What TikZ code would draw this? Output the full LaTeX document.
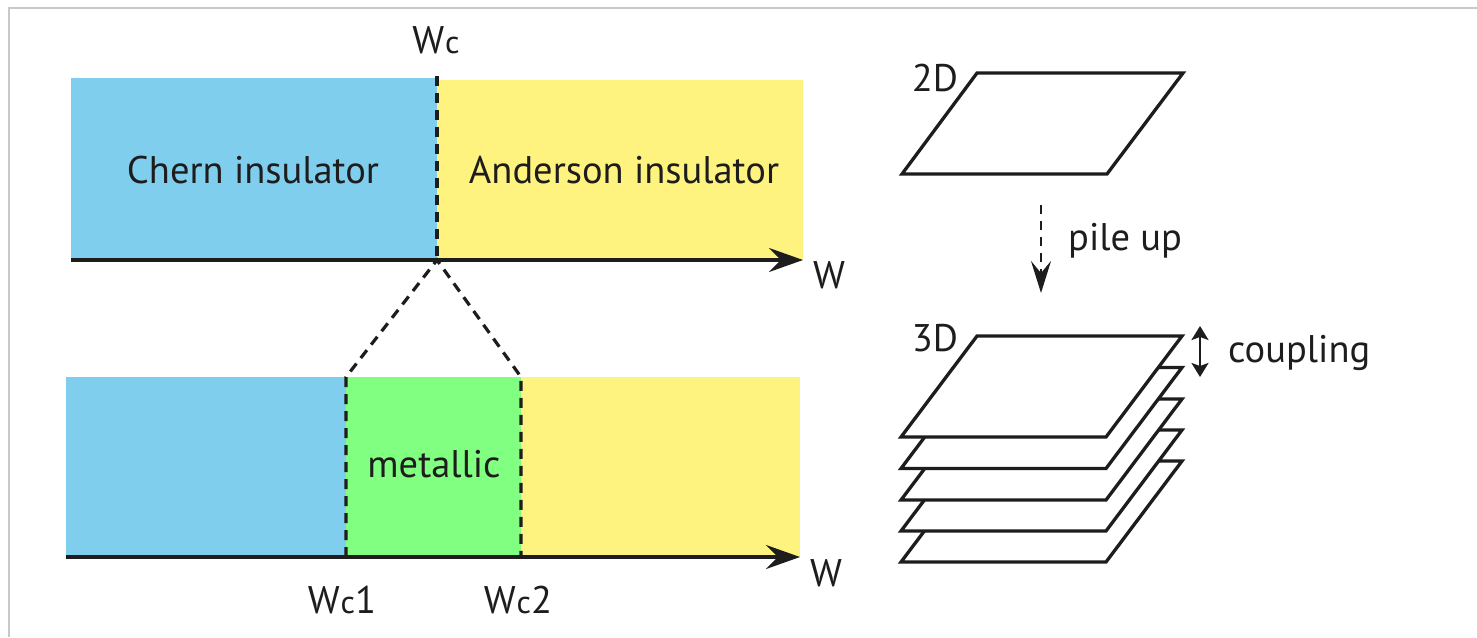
\documentclass[tikz,border=0pt]{standalone}
\usepackage{fontspec}
\setmainfont{PT Sans}
\usetikzlibrary{arrows.meta}
\definecolor{cblue}{RGB}{127,206,238}
\definecolor{cyellow}{RGB}{255,243,128}
\definecolor{cgreen}{RGB}{128,255,128}
\definecolor{ink}{RGB}{30,28,28}
\definecolor{framegray}{RGB}{200,200,200}
\begin{document}
\begin{tikzpicture}[x=1pt,y=-1pt,
  lbl/.style={inner sep=0pt, anchor=base, text=ink, font=\fontsize{38.5}{42}\selectfont},
  axisarrow/.style={draw=ink, line width=3.4pt, -{Stealth[length=34pt,width=24pt,inset=12pt]}},
  dsh/.style={draw=ink, line width=3.2pt, dash pattern=on 10pt off 7pt},
  plate/.style={draw=ink, line width=3.3pt, fill=white, line join=miter},
]
\useasboundingbox (0,0) rectangle (1477,637);
% frame
\draw[framegray, line width=2pt] (9,637) -- (9,8) -- (1477,8);

% ---------- top panel ----------
\fill[cblue] (71,78) rectangle (437,260);
\fill[cyellow] (437,80) rectangle (803,260);
\coordinate (a1s) at (71,260);
\coordinate (a1e) at (803,260);
\coordinate (wc) at (437,260);
\coordinate (wctop) at (437,76);
\draw[dsh] (wctop) -- (wc);
\draw[axisarrow] (a1s) -- (a1e);
\node[lbl] (chern) at (253,183) {Chern insulator};
\node[lbl] (anderson) at (624,183) {Anderson insulator};
\node[lbl] (wclbl) at (436,53) {W\kern1pt{\fontsize{32}{34}\selectfont c}};
\node[lbl] (w1) at (829,288) {W};

% ---------- bottom panel ----------
\fill[cblue] (66,377) rectangle (346,557);
\fill[cgreen] (346,377) rectangle (521,557);
\fill[cyellow] (521,377) rectangle (800,557);
\coordinate (a2s) at (66,557);
\coordinate (a2e) at (800,557);
\coordinate (wc1) at (346,557);
\coordinate (wc2) at (521,557);
\coordinate (wc1t) at (346,377);
\coordinate (wc2t) at (521,377);
\draw[dsh] (wc1) -- (wc1t) -- (wc) -- (wc2t) -- (wc2);
\draw[axisarrow] (a2s) -- (a2e);
\node[lbl] (metal) at (434,477) {metallic};
\node[lbl] (wc1lbl) at (342,613) {W\kern1pt{\fontsize{32}{34}\selectfont c}1};
\node[lbl] (wc2lbl) at (518,613) {W\kern1pt{\fontsize{32}{34}\selectfont c}2};
\node[lbl] (w2) at (826,586) {W};

% ---------- 2D plate ----------
\draw[plate] (977,73) -- (1183,73) -- (1107,174) -- (902,174) -- cycle;
\node[lbl] (twod) at (935,91) {2D};

% pile up arrow
\coordinate (pu1) at (1041,205);
\coordinate (pu2) at (1041,293);
\draw[draw=ink, line width=2.6pt, dash pattern=on 9pt off 7pt, -{Stealth[length=32pt,width=20pt,inset=12pt]}] (pu1) -- (pu2);
\node[lbl, anchor=base west] (pile) at (1068,250) {pile up};

% ---------- 3D stack ----------
\foreach \y in {461,430,399,367.5,336}{
  \draw[plate] (977,\y) -- (1182,\y) -- (1106,\y+101) -- (901,\y+101) -- cycle;
}
\node[lbl] (threed) at (935,351) {3D};
\coordinate (c1) at (1200,326);
\coordinate (c2) at (1200,377);
\draw[draw=ink, line width=2.4pt, {Stealth[length=14pt,width=17pt,inset=3pt]}-{Stealth[length=14pt,width=17pt,inset=3pt]}] (c1) -- (c2);
\node[lbl, anchor=base west] (coup) at (1228,362) {coupling};
\end{tikzpicture}
\end{document}
